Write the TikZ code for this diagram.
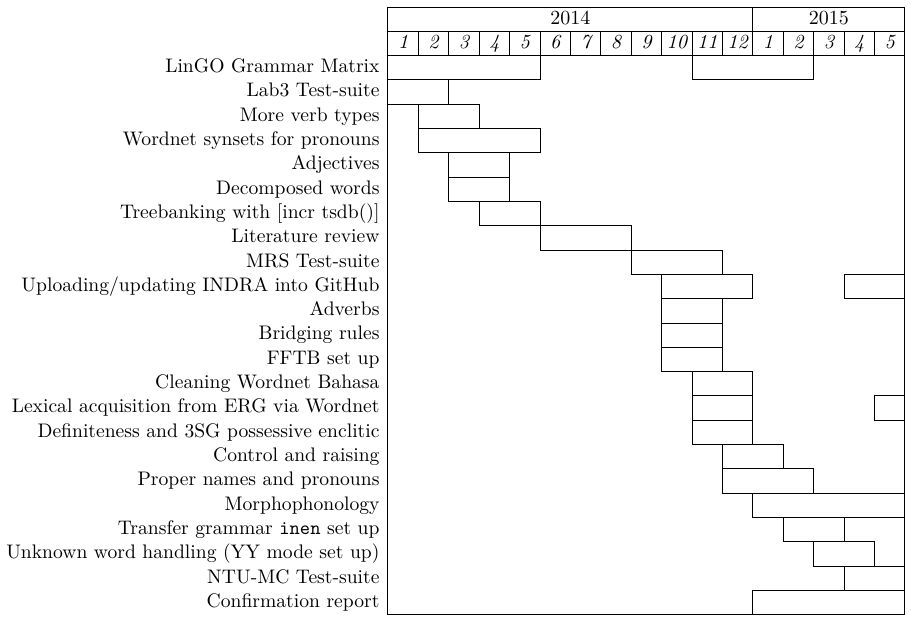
\documentclass[tikz,border=0pt]{standalone}
\usepackage{tikz}

\begin{document}
\begin{tikzpicture}[
    x=15.2pt, y=-12.15pt,
    line width=0.5pt,
    task/.style={anchor=east, inner sep=0pt, xshift=-4pt,
                 font=\fontsize{9.8pt}{12pt}\selectfont,
                 text height=8.4pt, text depth=3.6pt},
    month/.style={inner sep=0pt, text height=8.4pt, text depth=3.6pt,
                  font=\itshape},
    year/.style={inner sep=0pt, text height=8.4pt, text depth=3.6pt},
    bar/.style={draw},
]
  \useasboundingbox (-12.76,-0.29) rectangle (17.2,25.14);

  % Frame and header
  \draw (0,0) rectangle (17,25);
  \draw (0,1) -- (17,1);
  \draw (0,2) -- (17,2);
  \draw (12,0) -- (12,1);
  \node[year] (y2014) at (6,0.5) {2014};
  \node[year] (y2015) at (14.5,0.5) {2015};
  \foreach \m [count=\i] in {1,2,3,4,5,6,7,8,9,10,11,12,1,2,3,4,5}
    \node[month] (m\i) at (\i-0.5,1.5) {\m};
  \foreach \i in {1,...,16}
    \draw (\i,1) -- (\i,2);

  % Task labels
  \node[task] (t1) at (0,2.5) {LinGO Grammar Matrix};
  \node[task] (t2) at (0,3.5) {Lab3 Test-suite};
  \node[task] (t3) at (0,4.5) {More verb types};
  \node[task] (t4) at (0,5.5) {Wordnet synsets for pronouns};
  \node[task] (t5) at (0,6.5) {Adjectives};
  \node[task] (t6) at (0,7.5) {Decomposed words};
  \node[task] (t7) at (0,8.5) {Treebanking with [incr tsdb()]};
  \node[task] (t8) at (0,9.5) {Literature review};
  \node[task] (t9) at (0,10.5) {MRS Test-suite};
  \node[task] (t10) at (0,11.5) {Uploading/updating INDRA into GitHub};
  \node[task] (t11) at (0,12.5) {Adverbs};
  \node[task] (t12) at (0,13.5) {Bridging rules};
  \node[task] (t13) at (0,14.5) {FFTB set up};
  \node[task] (t14) at (0,15.5) {Cleaning Wordnet Bahasa};
  \node[task] (t15) at (0,16.5) {Lexical acquisition from ERG via Wordnet};
  \node[task] (t16) at (0,17.5) {Definiteness and 3SG possessive enclitic};
  \node[task] (t17) at (0,18.5) {Control and raising};
  \node[task] (t18) at (0,19.5) {Proper names and pronouns};
  \node[task] (t19) at (0,20.5) {Morphophonology};
  \node[task] (t20) at (0,21.5) {Transfer grammar \texttt{inen} set up};
  \node[task] (t21) at (0,22.5) {Unknown word handling (YY mode set up)};
  \node[task] (t22) at (0,23.5) {NTU-MC Test-suite};
  \node[task] (t23) at (0,24.5) {Confirmation report};

  % Bars
  \draw[bar] (0,2) rectangle (5,3);
  \draw[bar] (10,2) rectangle (14,3);
  \draw[bar] (0,3) rectangle (2,4);
  \draw[bar] (1,4) rectangle (3,5);
  \draw[bar] (1,5) rectangle (5,6);
  \draw[bar] (2,6) rectangle (4,7);
  \draw[bar] (2,7) rectangle (4,8);
  \draw[bar] (3,8) rectangle (5,9);
  \draw[bar] (5,9) rectangle (8,10);
  \draw[bar] (8,10) rectangle (11,11);
  \draw[bar] (9,11) rectangle (12,12);
  \draw[bar] (15,11) rectangle (17,12);
  \draw[bar] (9,12) rectangle (11,13);
  \draw[bar] (9,13) rectangle (11,14);
  \draw[bar] (9,14) rectangle (11,15);
  \draw[bar] (10,15) rectangle (12,16);
  \draw[bar] (10,16) rectangle (12,17);
  \draw[bar] (16,16) rectangle (17,17);
  \draw[bar] (10,17) rectangle (12,18);
  \draw[bar] (11,18) rectangle (13,19);
  \draw[bar] (11,19) rectangle (14,20);
  \draw[bar] (12,20) rectangle (17,21);
  \draw[bar] (13,21) rectangle (15,22);
  \draw[bar] (14,22) rectangle (16,23);
  \draw[bar] (15,23) rectangle (17,24);
  \draw[bar] (12,24) rectangle (17,25);
\end{tikzpicture}
\end{document}
